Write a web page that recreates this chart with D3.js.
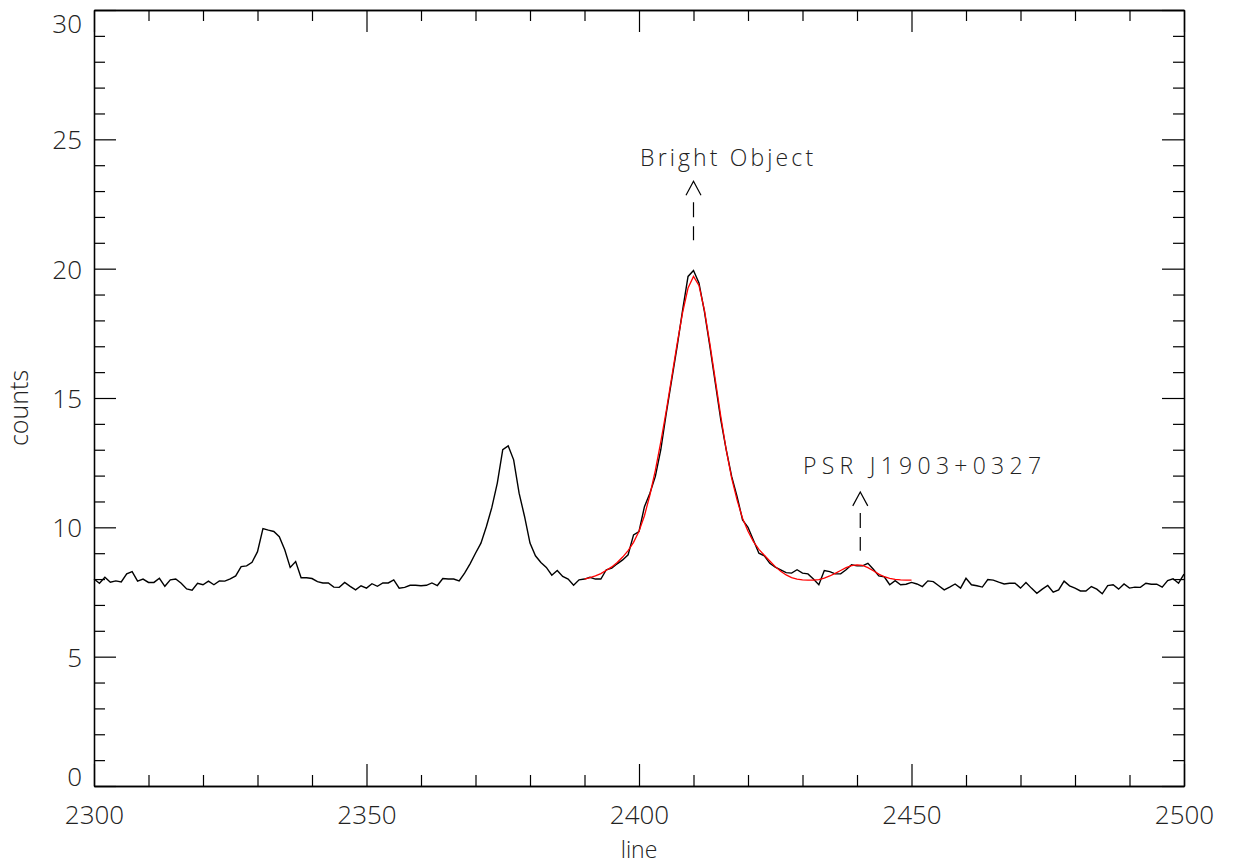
<!DOCTYPE html>
<html>
<head>
<meta charset="utf-8">
<script src="https://cdn.jsdelivr.net/npm/d3@7"></script>
<style>
  body { margin: 0; background: #fff; }
  svg text { font-family: "Open Sans", "DejaVu Sans", sans-serif; font-weight: 300; fill: #222; }
</style>
</head>
<body>
<div id="chart"></div>
<script>
// profile along the "line" direction, one value per line 2300..2500
var lineStart = 2300;
var counts = [
  8.0, 7.84, 8.07, 7.88, 7.93, 7.89, 8.2, 8.29, 7.92, 8.0,
  7.87, 7.87, 8.03, 7.72, 7.97, 8.0, 7.84, 7.62, 7.57, 7.84,
  7.78, 7.92, 7.78, 7.93, 7.92, 8.01, 8.12, 8.48, 8.51, 8.65,
  9.06, 9.95, 9.89, 9.84, 9.64, 9.13, 8.45, 8.68, 8.05, 8.05,
  8.02, 7.9, 7.85, 7.85, 7.69, 7.68, 7.87, 7.72, 7.58, 7.74,
  7.65, 7.82, 7.72, 7.85, 7.85, 7.97, 7.65, 7.68, 7.76, 7.76,
  7.74, 7.76, 7.85, 7.75, 8.02, 8.0, 8.0, 7.93, 8.23, 8.59,
  9.0, 9.39, 10.03, 10.77, 11.71, 13.0, 13.15, 12.61, 11.32, 10.42,
  9.39, 8.9, 8.64, 8.45, 8.15, 8.33, 8.1, 8.0, 7.76, 7.97,
  8.0, 8.07, 8.0, 8.0, 8.36, 8.42, 8.59, 8.74, 8.94, 9.71,
  9.84, 10.8, 11.32, 11.97, 13.0, 14.4, 15.7, 17.0, 18.4, 19.7,
  19.93, 19.45, 18.35, 17.0, 15.58, 14.16, 13.0, 11.97, 11.19, 10.29,
  10.0, 9.5, 9.0, 8.9, 8.61, 8.46, 8.36, 8.25, 8.23, 8.36,
  8.23, 8.2, 8.0, 7.78, 8.33, 8.29, 8.2, 8.2, 8.36, 8.55,
  8.51, 8.51, 8.61, 8.38, 8.12, 8.09, 7.78, 7.94, 7.78, 7.8,
  7.87, 7.81, 7.71, 7.93, 7.9, 7.74, 7.58, 7.69, 7.81, 7.65,
  8.03, 7.78, 7.74, 7.69, 7.98, 7.96, 7.88, 7.81, 7.84, 7.84,
  7.65, 7.87, 7.65, 7.45, 7.61, 7.75, 7.49, 7.58, 7.92, 7.74,
  7.65, 7.54, 7.54, 7.71, 7.61, 7.43, 7.75, 7.78, 7.61, 7.81,
  7.65, 7.69, 7.68, 7.84, 7.8, 7.8, 7.69, 7.94, 8.01, 7.84,
  8.19
];

// red fitted profile, lines 2390..2450
var fitStart = 2390;
var fitCounts = [
  8.0, 8.06, 8.12, 8.21, 8.34, 8.47, 8.64, 8.85, 9.1, 9.42,
  9.85, 10.45, 11.25, 12.2, 13.3, 14.5, 15.8, 17.1, 18.3, 19.25,
  19.7, 19.35, 18.4, 17.1, 15.7, 14.3, 13.0, 11.9, 11.05, 10.35,
  9.85, 9.45, 9.15, 8.92, 8.7, 8.48, 8.3, 8.16, 8.06, 8.0,
  7.97, 7.96, 7.96, 7.98, 8.04, 8.12, 8.22, 8.33, 8.44, 8.52,
  8.55, 8.53, 8.44, 8.32, 8.19, 8.09, 8.03, 7.99, 7.97, 7.96,
  7.96
];

// annotations: label, text x/y, arrow x, arrow tip, dash bottom
var labels = ["Bright Object", "PSR J1903+0327"];
var labelX = [2400.2, 2430.1];
var labelY = [23.96, 12.06];
var arrowX = [2410, 2440.6];
var arrowTop = [23.38, 11.37];
var arrowBottom = [21.1, 9.09];

var xMajor = [2300, 2350, 2400, 2450, 2500];
var yMajor = [0, 5, 10, 15, 20, 25, 30];

var margin = {top: 10, right: 49, bottom: 81, left: 94},
    width = 1233 - margin.left - margin.right,
    height = 867 - margin.top - margin.bottom;

var svg = d3.select("#chart")
  .append("svg")
    .attr("width", 1233)
    .attr("height", 867)
  .append("g")
    .attr("transform", "translate(" + margin.left + "," + margin.top + ")");

var x = d3.scaleLinear().domain([2300, 2500]).range([0, width]);
var y = d3.scaleLinear().domain([0, 30]).range([height, 0]);

var xMinor = d3.range(2300, 2501, 10).filter(function(v) { return v % 50 != 0; });
var yMinor = d3.range(0, 31, 1).filter(function(v) { return v % 5 != 0; });

function styleAxis(g) {
  g.selectAll("path").attr("stroke", "#000").attr("stroke-width", 1.3);
  g.selectAll("line").attr("stroke", "#000").attr("stroke-width", 1.2);
}

// bottom axis
svg.append("g")
  .attr("transform", "translate(0," + height + ")")
  .call(d3.axisBottom(x).tickValues(xMajor).tickSize(-22).tickSizeOuter(0).tickPadding(0).tickFormat(d3.format("d")))
  .call(styleAxis)
  .selectAll("text")
    .attr("y", 38).attr("dy", 0)
    .style("font-size", "26px");
svg.append("g")
  .attr("transform", "translate(0," + height + ")")
  .call(d3.axisBottom(x).tickValues(xMinor).tickSize(-11).tickSizeOuter(0).tickFormat(""))
  .call(styleAxis);

// top axis
svg.append("g")
  .call(d3.axisTop(x).tickValues(xMajor).tickSize(-22).tickSizeOuter(0).tickFormat(""))
  .call(styleAxis);
svg.append("g")
  .call(d3.axisTop(x).tickValues(xMinor).tickSize(-11).tickSizeOuter(0).tickFormat(""))
  .call(styleAxis);

// left axis; the end labels are nudged inside like the original plot
svg.append("g")
  .call(d3.axisLeft(y).tickValues(yMajor).tickSize(-22).tickSizeOuter(0).tickPadding(12))
  .call(styleAxis)
  .selectAll("text")
    .attr("dy", function(d) { return d == 30 ? "0.86em" : d == 0 ? "-0.02em" : "0.36em"; })
    .style("font-size", "26px");
svg.append("g")
  .call(d3.axisLeft(y).tickValues(yMinor).tickSize(-11).tickSizeOuter(0).tickFormat(""))
  .call(styleAxis);

// right axis
svg.append("g")
  .attr("transform", "translate(" + width + ",0)")
  .call(d3.axisRight(y).tickValues(yMajor).tickSize(-22).tickSizeOuter(0).tickFormat(""))
  .call(styleAxis);
svg.append("g")
  .attr("transform", "translate(" + width + ",0)")
  .call(d3.axisRight(y).tickValues(yMinor).tickSize(-11).tickSizeOuter(0).tickFormat(""))
  .call(styleAxis);

// axis titles
svg.append("text")
  .attr("x", width / 2)
  .attr("y", height + 72)
  .attr("text-anchor", "middle")
  .style("font-size", "23px")
  .text("line");

svg.append("text")
  .attr("transform", "translate(" + (28 - margin.left) + "," + (height / 2 + 10) + ")rotate(-90)")
  .attr("text-anchor", "middle")
  .style("font-size", "25px")
  .text("counts");

// data lines
var line = d3.line()
  .x(function(d, i) { return x(lineStart + i); })
  .y(function(d) { return y(d); });

var fitLine = d3.line()
  .x(function(d, i) { return x(fitStart + i); })
  .y(function(d) { return y(d); });

svg.append("path")
  .datum(counts)
  .attr("fill", "none")
  .attr("stroke", "#000")
  .attr("stroke-width", 1.4)
  .attr("d", line);

svg.append("path")
  .datum(fitCounts)
  .attr("fill", "none")
  .attr("stroke", "#ff0000")
  .attr("stroke-width", 1.3)
  .attr("d", fitLine);

// annotations (text stretched to the width of the vector font)
var labelWidth = [173, 238];
labels.forEach(function(lab, i) {
  svg.append("text")
    .attr("x", x(labelX[i]))
    .attr("y", y(labelY[i]))
    .attr("textLength", labelWidth[i])
    .attr("lengthAdjust", "spacing")
    .style("font-size", "23px")
    .text(lab);

  var ax = x(arrowX[i]), at = y(arrowTop[i]);
  svg.append("path")
    .attr("d", "M" + (ax - 7.5) + "," + (at + 14) + "L" + ax + "," + at + "L" + (ax + 7.5) + "," + (at + 14))
    .attr("fill", "none")
    .attr("stroke", "#000")
    .attr("stroke-width", 1.2);

  svg.append("line")
    .attr("x1", ax).attr("x2", ax)
    .attr("y1", at + 21)
    .attr("y2", y(arrowBottom[i]))
    .attr("stroke", "#000")
    .attr("stroke-width", 1.2)
    .attr("stroke-dasharray", "15,9");
});
</script>
</body>
</html>
